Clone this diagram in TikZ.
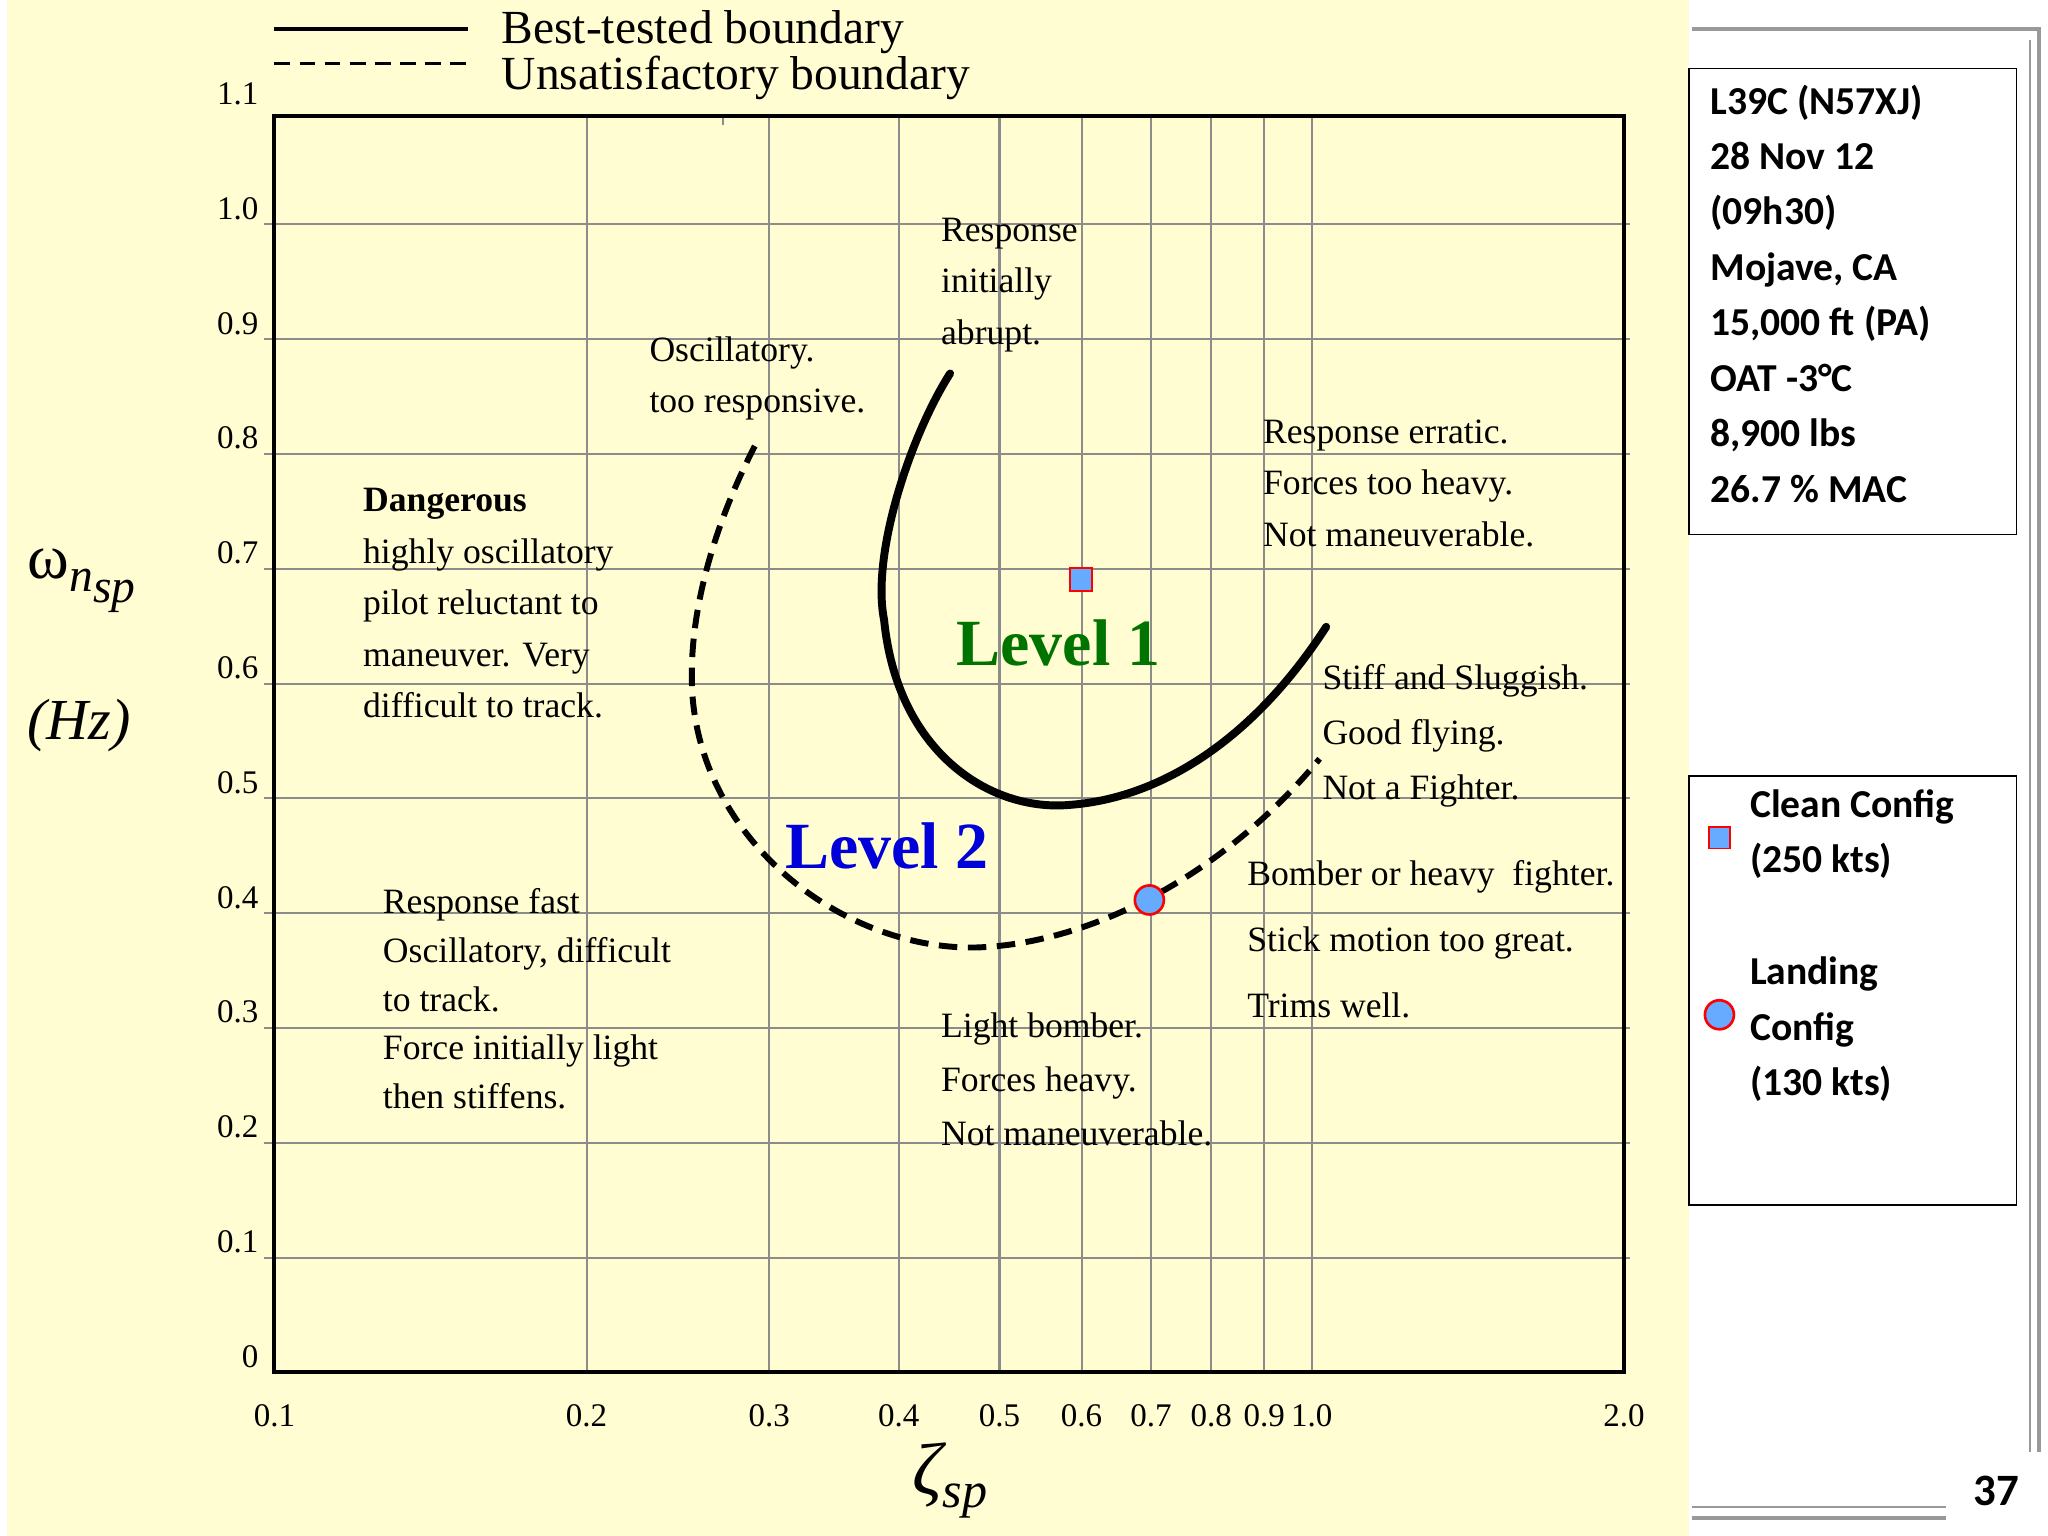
\documentclass[tikz,border=0pt]{standalone}
\usepackage{fontspec}
\setmainfont{Liberation Serif}
\newfontfamily\calfont{Carlito}
\begin{document}
\begin{tikzpicture}[x=1pt,y=-1pt,
  ann/.style={anchor=north west,align=left,font=\fontsize{27}{39}\selectfont,inner sep=0},
  tick/.style={font=\fontsize{25}{30}\selectfont,inner sep=0},
  grid/.style={draw=black!45,line width=1.6pt},
  info/.style={anchor=north west,align=left,font=\calfont\bfseries\fontsize{30}{42}\selectfont,inner sep=0}]
\useasboundingbox (0,0) rectangle (1552,1164);
\fill[yellow!18] (5,0) rectangle (1280,1164);
% slide decoration
\draw[black!40,line width=3pt] (1282,22) -- (1545,22) -- (1545,1100);
\draw[black!40,line width=1.5pt] (1538,30) -- (1538,1100);
\draw[black!40,line width=3pt] (1282,1150) -- (1475,1150);
\draw[black!40,line width=1.5pt] (1282,1142) -- (1475,1142);
\node[font=\calfont\bfseries\fontsize{34}{40}\selectfont] (pg) at (1513,1130) {37};
% grid
\foreach \v in {0.2,0.3,0.4,0.5,0.6,0.7,0.8,0.9,1.0}{
  \pgfmathsetmacro\xx{208+786*log10(\v/0.1)}
  \draw[grid] (\xx,88) -- (\xx,1040);}
\draw[grid] (548,95) -- (548,88);
\foreach \v in {0.1,0.2,...,1.01}{
  \pgfmathsetmacro\yy{1040-870*\v}
  \draw[grid] (200,\yy) -- (1235,\yy);}
\draw[line width=3pt] (208,88) rectangle (1231,1040);
% tick labels
\foreach \v/\l in {0/0,0.1/0.1,0.2/0.2,0.3/0.3,0.4/0.4,0.5/0.5,0.6/0.6,0.7/0.7,0.8/0.8,0.9/0.9,1.0/1.0,1.1/1.1}{
  \pgfmathsetmacro\yy{1040-870*\v-12}
  \node[tick,anchor=east] at (196,\yy) {\l};}
\foreach \v/\l in {0.1/0.1,0.2/0.2,0.3/0.3,0.4/0.4,0.5/0.5,0.6/0.6,0.7/0.7,0.8/0.8,0.9/0.9,1.0/1.0,2.0/2.0}{
  \pgfmathsetmacro\xx{208+786*log10(\v/0.1)}
  \node[tick] at (\xx,1073) {\l};}
\node[font=\fontsize{48}{50}\selectfont,inner sep=0] (yl) at (62,440) {ω\raisebox{-10pt}{\fontsize{36}{40}\selectfont\itshape n\raisebox{-8pt}{sp}}};
\node[font=\fontsize{44}{50}\selectfont\itshape] (yu) at (60,550) {(Hz)};
\node[font=\fontsize{56}{60}\selectfont\itshape,inner sep=0] (xl) at (720,1122) {ζ\raisebox{-10pt}{\fontsize{38}{40}\selectfont sp}};
% legend
\draw[line width=2.5pt] (208,22) -- (355,22);
\draw[line width=2.5pt,dash pattern=on 12pt off 7pt] (208,48) -- (358,48);
\node[anchor=west,font=\fontsize{36}{36}\selectfont,inner sep=0] (l1) at (380,24) {Best-tested boundary};
\node[anchor=west,font=\fontsize{36}{36}\selectfont,inner sep=0] (l2) at (380,59) {Unsatisfactory boundary};
% curves
\draw[line width=6pt,line cap=round] (720,283) .. controls (690,330) and (660,420) .. (670,470)
  .. controls (680,570) and (750,615) .. (810,610) .. controls (880,605) and (950,560) .. (1005,475);
\draw[line width=4.5pt,dash pattern=on 14pt off 8pt] (572,338) .. controls (540,400) and (520,470) .. (525,530)
  .. controls (535,640) and (640,720) .. (740,718) .. controls (830,715) and (930,660) .. (1000,575);
% annotations
\node[ann] (a1) at (713,165) {Response\\initially\\abrupt.};
\node[ann] (a2) at (492,255) {Oscillatory.\\too responsive.};
\node[ann] (a3) at (957,318) {Response erratic.\\Forces too heavy.\\Not maneuverable.};
\node[ann] (a4) at (275,370) {\textbf{Dangerous}\\highly oscillatory\\pilot reluctant to\\maneuver. Very\\difficult to track.};
\node[ann,font=\fontsize{27}{42}\selectfont] (a5) at (1002,503) {Stiff and Sluggish.\\Good flying.\\Not a Fighter.};
\node[ann,font=\fontsize{27}{50}\selectfont] (a6) at (945,652) {Bomber or heavy\ \ fighter.\\Stick motion too great.\\Trims well.};
\node[ann,font=\fontsize{27}{37}\selectfont] (a7) at (290,673) {Response fast\\Oscillatory, difficult\\to track.\\Force initially light\\then stiffens.};
\node[ann,font=\fontsize{27}{41}\selectfont] (a8) at (713,767) {Light bomber.\\Forces heavy.\\Not maneuverable.};
\node[font=\bfseries\fontsize{50}{50}\selectfont,text=green!45!black] (lv1) at (802,487) {Level 1};
\node[font=\bfseries\fontsize{50}{50}\selectfont,text=blue!85!black] (lv2) at (672,641) {Level 2};
% points
\node[draw=red,fill=blue!55!cyan!60,line width=1.5pt,minimum size=17pt,inner sep=0] (pc) at (819,439) {};
\node[circle,draw=red,fill=blue!55!cyan!60,line width=2pt,minimum size=22pt,inner sep=0] (pl) at (871,682) {};
% info boxes
\draw[line width=1.2pt] (1280,52) rectangle (1528,405);
\node[info] (ib) at (1296,64) {L39C (N57XJ)\\28 Nov 12\\(09h30)\\Mojave, CA\\15,000 ft (PA)\\OAT -3°C\\8,900 lbs\\26.7 \% MAC};
\draw[line width=1.2pt] (1280,588) rectangle (1528,913);
\node[draw=red,fill=blue!55!cyan!60,line width=1.5pt,minimum size=16pt,inner sep=0] (lc) at (1303,635) {};
\node[info] (lt1) at (1326,598) {Clean Config\\(250 kts)};
\node[circle,draw=red,fill=blue!55!cyan!60,line width=2pt,minimum size=22pt,inner sep=0] (ll) at (1303,769) {};
\node[info] (lt2) at (1326,725) {Landing\\Config\\(130 kts)};
\end{tikzpicture}
\end{document}
